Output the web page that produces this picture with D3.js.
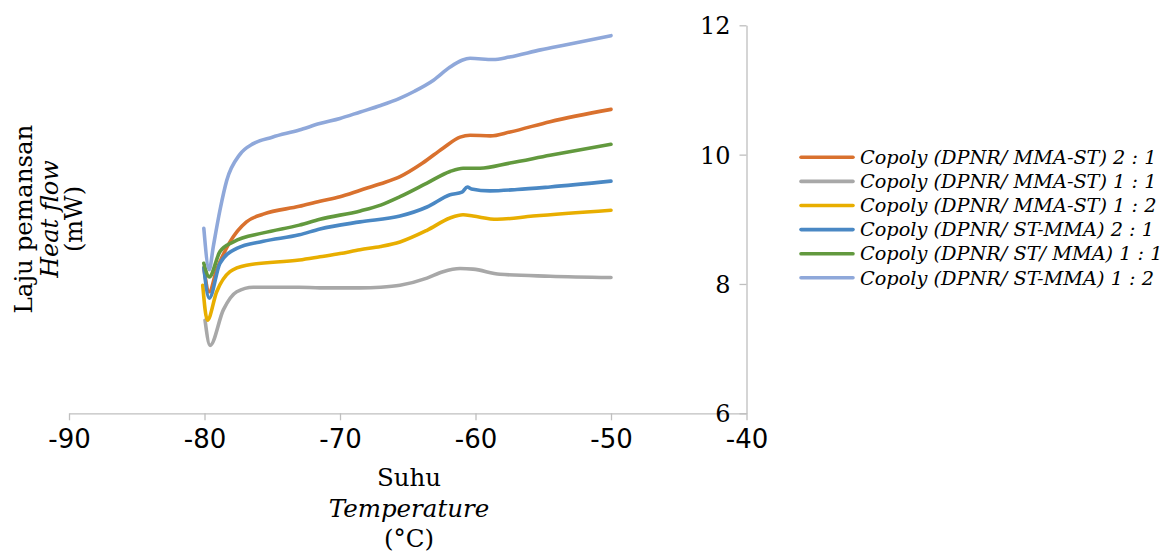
<!DOCTYPE html>
<html><head><meta charset="utf-8">
<script src="https://cdn.jsdelivr.net/npm/d3@7"></script>
<style>body{margin:0;background:#fff}</style>
</head><body>
<svg id="c" width="1163" height="552"></svg>
<script>
const xTicks = [-90,-80,-70,-60,-50,-40];
const yTicks = [6,8,10,12];
const seriesNames = [
  "Copoly (DPNR/ MMA-ST) 2 : 1",
  "Copoly (DPNR/ MMA-ST) 1 : 1",
  "Copoly (DPNR/ MMA-ST) 1 : 2",
  "Copoly (DPNR/ ST-MMA) 2 : 1",
  "Copoly (DPNR/ ST/ MMA) 1 : 1",
  "Copoly (DPNR/ ST-MMA) 1 : 2"
];
const colors = ["#D9712E","#A8A8A8","#E8AE00","#4A88C4","#62993E","#8FA8DA"];

const orangeX = [-80.05,-79.65,-79.1,-78.12,-76.9,-75.66,-73,-71.48,-70,-68.5,-67,-65.57,-63.9,-62.4,-61.14,-60.4,-58.9,-57.45,-54.5,-50];
const orangeY = [8.25,7.88,8.22,8.65,8.96,9.08,9.20,9.28,9.35,9.45,9.55,9.66,9.87,10.10,10.27,10.30,10.29,10.35,10.51,10.70];
const grayX = [-79.96,-79.59,-78.61,-77.62,-76.4,-73,-71.48,-68.5,-67,-65.57,-63.58,-62.4,-61.14,-60.18,-58.19,-54.5,-50];
const grayY = [7.44,7.05,7.60,7.88,7.95,7.95,7.94,7.94,7.95,7.98,8.09,8.19,8.24,8.23,8.15,8.12,8.10];
const goldX = [-80.13,-79.79,-79.1,-78.12,-76.89,-73,-71.48,-70,-68.52,-67,-65.57,-63.58,-61.88,-60.92,-60.18,-58.41,-55.76,-50];
const goldY = [7.98,7.44,7.88,8.19,8.29,8.37,8.42,8.47,8.53,8.58,8.65,8.83,9.02,9.07,9.05,9.00,9.05,9.14];
const blueX = [-80.05,-79.65,-78.86,-77.62,-75.66,-73,-71.48,-68.52,-65.57,-63.58,-61.88,-61.0,-60.6,-60.3,-58.93,-56.94,-54.5,-50];
const blueY = [8.25,7.78,8.32,8.55,8.66,8.76,8.85,8.96,9.05,9.19,9.38,9.42,9.50,9.47,9.44,9.46,9.50,9.59];
const greenX = [-80.05,-79.65,-78.86,-77.87,-75.66,-73,-71.48,-68.5,-67,-65.57,-63.58,-61.88,-60.92,-59.67,-57.45,-54.5,-50];
const greenY = [8.32,8.11,8.50,8.65,8.79,8.91,9.00,9.13,9.22,9.35,9.56,9.74,9.79,9.79,9.87,9.99,10.16];
const lblueX = [-80.05,-79.65,-79.35,-78.86,-78.36,-77.4,-76.4,-75.0,-73,-71.5,-70,-68.5,-67,-65.6,-64.5,-63.1,-61.9,-61.0,-60.4,-58.7,-57.5,-55.2,-53.3,-50];
const lblueY = [8.86,8.22,8.58,9.14,9.60,10.0,10.17,10.27,10.38,10.48,10.56,10.66,10.76,10.87,10.98,11.15,11.35,11.46,11.49,11.47,11.51,11.62,11.70,11.84];

const seriesX = [orangeX,grayX,goldX,blueX,greenX,lblueX];
const seriesY = [orangeY,grayY,goldY,blueY,greenY,lblueY];

const svg = d3.select("#c");
const x = d3.scaleLinear().domain([-90,-40]).range([69,746.5]);
const y = d3.scaleLinear().domain([6,12]).range([413.3,25.3]);
const axisColor = "#BFBFBF";

// x axis
const gx = svg.append("g").attr("transform","translate(0,"+y(6)+")")
  .call(d3.axisBottom(x).tickValues(xTicks).tickSize(7).tickSizeOuter(0).tickFormat(d3.format("d")));
gx.select(".domain").attr("stroke",axisColor).attr("stroke-width",1.3);
gx.selectAll(".tick line").attr("stroke",axisColor).attr("stroke-width",1.3);
gx.selectAll(".tick text").attr("fill","#000").attr("font-family","DejaVu Sans").attr("font-size",26).attr("dy","0.95em")
  .text(d=>(d<0?"-":"")+Math.abs(d));

// y axis
const gy = svg.append("g").attr("transform","translate("+x(-40)+",0)")
  .call(d3.axisLeft(y).tickValues(yTicks).tickSize(7).tickSizeOuter(0).tickFormat(d3.format("d")));
gy.select(".domain").attr("stroke",axisColor).attr("stroke-width",1.3);
gy.selectAll(".tick line").attr("stroke",axisColor).attr("stroke-width",1.3);
gy.selectAll(".tick text").attr("fill","#000").attr("font-family","DejaVu Serif").attr("font-size",24).attr("x",-16).attr("dy","0.36em");

// lines
const line = d3.line().x(d=>x(d[0])).y(d=>y(d[1])).curve(d3.curveMonotoneX);
seriesX.forEach((xs,i)=>{
  const pts = xs.map((v,j)=>[v, seriesY[i][j]]);
  svg.append("path").datum(pts).attr("d",line).attr("fill","none")
    .attr("stroke",colors[i]).attr("stroke-width",3.6).attr("stroke-linecap","round").attr("stroke-linejoin","round");
});

// legend
const lg = svg.append("g");
seriesNames.forEach((n,i)=>{
  const yy = 157.3 + i*24.1;
  lg.append("line").attr("x1",801).attr("x2",853).attr("y1",yy).attr("y2",yy)
    .attr("stroke",colors[i]).attr("stroke-width",3.6).attr("stroke-linecap","round");
  lg.append("text").attr("x",860).attr("y",yy).attr("dy","0.35em")
    .attr("font-family","DejaVu Serif").attr("font-style","italic").attr("font-size",19.3).text(n);
});

// y title
const yt = svg.append("g").attr("transform","translate(0,219) rotate(-90)");
[["Laju pemansan","normal",23,24.5],["Heat flow","italic",50,24],["(mW)","normal",74,24]].forEach(([t,s,cx,fs])=>{
  yt.append("text").attr("x",0).attr("y",cx).attr("dy","0.35em").attr("text-anchor","middle")
    .attr("font-family","DejaVu Serif").attr("font-style",s).attr("font-size",fs).text(t);
});
// x title
[["Suhu","normal",477],["Temperature","italic",508],["(°C)","normal",538]].forEach(([t,s,cy])=>{
  svg.append("text").attr("x",409).attr("y",cy).attr("dy","0.35em").attr("text-anchor","middle")
    .attr("font-family","DejaVu Serif").attr("font-style",s).attr("font-size",24.5).text(t);
});
</script>
</body></html>
